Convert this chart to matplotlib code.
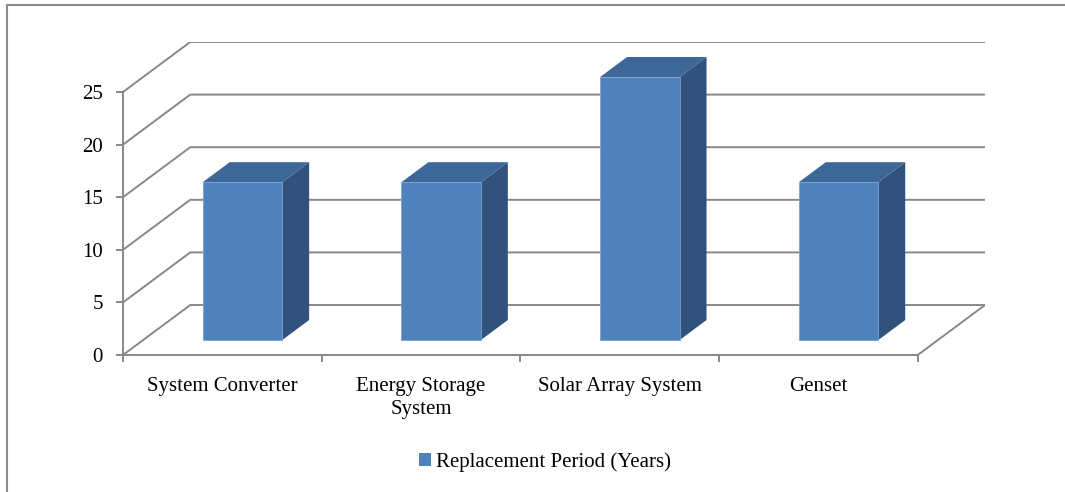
import matplotlib
matplotlib.use("Agg")
import matplotlib.pyplot as plt
from matplotlib.patches import Polygon, Patch
from matplotlib.lines import Line2D

categories = ["System Converter", "Energy Storage\nSystem", "Solar Array System", "Genset"]
values = [15, 15, 25, 15]
series_name = "Replacement Period (Years)"
yticks = [0, 5, 10, 15, 20, 25]

W, H = 1065, 492
fig = plt.figure(figsize=(W / 100, H / 100), dpi=100)
plt.rcParams['font.family'] = ['Liberation Serif', 'DejaVu Serif']

GRID = "#888888"
FRONT = "#4F81BD"
TOP = "#3C6796"
SIDE = "#30527C"

# 3D depth offsets (data units)
DX = 0.3384   # depth in category units
DY = 4.75     # depth in value units
f0, f1 = 0.3, 0.7
bw = 0.4
ymax = 25

left_px, right_px = 123, 985
bot_px, top_px = 355, 42
ax = fig.add_axes([left_px / W, (H - bot_px) / H, (right_px - left_px) / W, (bot_px - top_px) / H])
ax.set_xlim(-0.5, len(categories) - 0.5 + DX)
ax.set_ylim(0, ymax + DY)
ax.set_facecolor("none")

for s in ["top", "right"]:
    ax.spines[s].set_visible(False)
ax.spines["left"].set_bounds(0, ymax)
ax.spines["bottom"].set_bounds(-0.5, len(categories) - 0.5)
for s in ["left", "bottom"]:
    ax.spines[s].set_color(GRID)
    ax.spines[s].set_linewidth(1.4)

ax.set_yticks(yticks)
ax.set_yticklabels([str(t) for t in yticks], fontsize=15)
ax.tick_params(axis="y", direction="out", length=5, width=1.4, color=GRID, pad=9.5)

ax.set_xticks([i - 0.5 for i in range(len(categories) + 1)])
ax.set_xticklabels([])
ax.tick_params(axis="x", which="major", direction="out", length=5, width=1.4, color=GRID)
ax.set_xticks(range(len(categories)), minor=True)
ax.set_xticklabels(categories, minor=True, fontsize=15, linespacing=1.3)
ax.tick_params(axis="x", which="minor", length=0, pad=15.5)

# walls: left wall diagonals + back wall gridlines
x_left = -0.5
x_right = len(categories) - 0.5
for v in yticks:
    ax.plot([x_left, x_left + DX, x_right + DX], [v, v + DY, v + DY],
            color=GRID, lw=1.4, zorder=1, solid_capstyle="butt")
# floor right edge
ax.plot([x_right, x_right + DX], [0, DY], color=GRID, lw=1.4, zorder=1)

# bars
for i, v in enumerate(values):
    x0, x1 = i - bw / 2, i + bw / 2
    front = [(x0 + f0 * DX, f0 * DY), (x1 + f0 * DX, f0 * DY),
             (x1 + f0 * DX, v + f0 * DY), (x0 + f0 * DX, v + f0 * DY)]
    top = [(x0 + f0 * DX, v + f0 * DY), (x1 + f0 * DX, v + f0 * DY),
           (x1 + f1 * DX, v + f1 * DY), (x0 + f1 * DX, v + f1 * DY)]
    side = [(x1 + f0 * DX, f0 * DY), (x1 + f1 * DX, f1 * DY),
            (x1 + f1 * DX, v + f1 * DY), (x1 + f0 * DX, v + f0 * DY)]
    ax.add_patch(Polygon(side, closed=True, facecolor=SIDE, edgecolor="none", zorder=3))
    ax.add_patch(Polygon(top, closed=True, facecolor=TOP, edgecolor="none", zorder=3))
    ax.add_patch(Polygon(front, closed=True, facecolor=FRONT, edgecolor="#7BA0CF", lw=0.6, zorder=4))

# legend
fig.legend(handles=[Patch(facecolor=FRONT, edgecolor="none", label=series_name)],
           loc="center", bbox_to_anchor=(545 / W, (H - 462) / H), frameon=False,
           fontsize=15, handlelength=0.55, handleheight=0.55, handletextpad=0.25)

# outer chart frame
fig.add_artist(Line2D([7 / W, 1.0], [(H - 5) / H, (H - 5) / H], color="#8C8C8C", lw=1.5))
fig.add_artist(Line2D([7 / W, 7 / W], [0, (H - 5) / H], color="#8C8C8C", lw=1.5))

fig.savefig("out.png", dpi=100)
